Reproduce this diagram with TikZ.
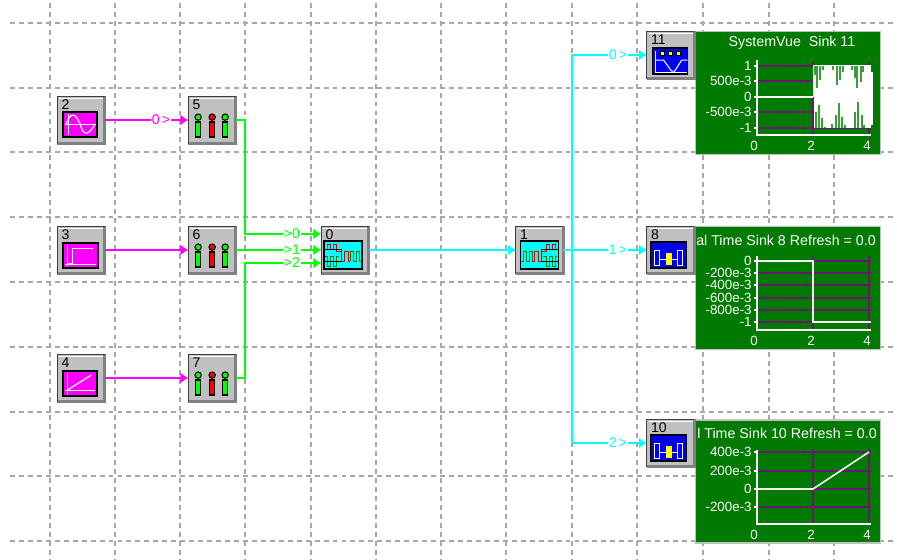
\documentclass[tikz,border=0pt]{standalone}
\usepackage{fontspec}
\setmainfont{Liberation Sans}
\usetikzlibrary{arrows.meta,positioning,calc}

\definecolor{gridgray}{HTML}{A8A8A8}
\definecolor{boxgray}{HTML}{C0C0C0}
\definecolor{edgegray}{HTML}{808080}
\definecolor{sinkgreen}{HTML}{007A00}
\definecolor{plotpurple}{HTML}{651A6B}
\definecolor{iconblue}{HTML}{0000F0}
\definecolor{sigmagenta}{HTML}{FF00FF}
\definecolor{sigcyan}{HTML}{00FFFF}
\definecolor{siggreen}{HTML}{00FF00}
\definecolor{lampyellow}{HTML}{FFFF00}
\definecolor{spikegreen}{HTML}{3C9C3C}

\newcommand{\axisfont}{\fontsize{7.6}{8}\selectfont}
\newcommand{\titlefont}{\fontsize{8.1}{9}\selectfont}

\tikzset{
  tokenbox/.style={fill=boxgray, minimum width=0.94cm, minimum height=0.94cm, inner sep=0pt},
  sinkpanel/.style={fill=sinkgreen, draw=boxgray, line width=0.9pt, minimum width=3.7cm, minimum height=2.46cm, inner sep=0pt},
  wirem/.style={draw=sigmagenta, line width=0.85pt, -{Latex[length=4.4pt,width=6.2pt]}},
  wireg/.style={draw=siggreen, line width=0.85pt, -{Latex[length=4.4pt,width=6.2pt]}},
  wirec/.style={draw=sigcyan, line width=0.85pt, -{Latex[length=4.4pt,width=6.2pt]}},
  wirelabel/.style={fill=white, inner sep=0.6pt, font=\fontsize{8}{9}\selectfont},
  iconbox/.style={draw=black, line width=0.8pt},
  pics/sinewave/.style={code={
    \draw[iconbox, fill=sigmagenta] (6,16) rectangle (40,41);
    \draw[white, line width=0.6pt] (11,18) -- (11,39) (8,28) -- (39,28);
    \draw[white, line width=0.7pt] (9,28) .. controls (13,16) and (18,16) .. (23,28) .. controls (26,40) and (31,40) .. (38,28);
  }},
  pics/stepwave/.style={code={
    \draw[iconbox, fill=sigmagenta] (6,17) rectangle (41,42);
    \draw[white, line width=0.6pt] (10,19) -- (10,41) (8,38) -- (39,38);
    \draw[white, line width=0.7pt] (10,37) -- (15,37) -- (15,22) -- (36,22);
  }},
  pics/rampwave/.style={code={
    \draw[iconbox, fill=sigmagenta] (6,17) rectangle (40,42);
    \draw[white, line width=0.6pt] (10,19) -- (10,41) (8,36) -- (38,36);
    \draw[white, line width=0.7pt] (10,36) -- (34,21);
  }},
  pics/meterbars/.style={code={
    \foreach \barx/\barcolor in {10/siggreen,24/red,37/siggreen} {
      \filldraw[fill=\barcolor, draw=black, line width=0.6pt] (\barx,21) circle [radius=1.8pt];
      \draw[fill=\barcolor, line width=0.8pt] ($(\barx,26)+(-2.5,0)$) rectangle ($(\barx,41)+(2.5,0)$);
    }
  }},
  pics/muxicon/.style={code={
    \draw[iconbox, fill=sigcyan] (3,15) rectangle (41,43);
    \draw[red!85!black, line width=0.6pt] (4,23) -- (6,23) -- (6,18) -- (9,18) -- (9,23) -- (12,23) -- (12,18) -- (15,18) -- (15,25) -- (20,25);
    \draw[green!50!black, line width=0.6pt] (4,30) -- (6,30) -- (6,40) -- (9,40) -- (9,30) -- (12,30) -- (12,40) -- (15,40) -- (15,30) -- (18,30);
    \draw[red!85!black, line width=0.6pt] (20,35) -- (23,35) -- (23,25) -- (27,25) -- (27,35) -- (29,35);
    \draw[green!50!black, line width=0.6pt] (29,35) -- (29,25) -- (32,25) -- (32,35) -- (35,35) -- (35,25) -- (38,25) -- (38,35) -- (40,35);
    \draw[black, line width=0.7pt] (3,23) rectangle (20,35);
  }},
  pics/specicon/.style={code={
    \draw[iconbox, fill=iconblue] (6,17) rectangle (41,43);
    \foreach \lampx in {16,24,32} {
      \draw[fill=lampyellow, line width=0.4pt] ($(\lampx,22)+(-2,-2)$) rectangle ($(\lampx,22)+(2,2)$);
    }
    \draw[white, line width=0.6pt] (9,20) -- (9,41) -- (40,41);
    \draw[white, line width=0.6pt] (9,29) -- (17,29) -- (25,40) -- (28,40) -- (35,29) -- (41,29);
  }},
  pics/scopeicon/.style={code={
    \draw[iconbox, fill=iconblue] (4,16) rectangle (40,42);
    \draw[white, line width=0.6pt] (13,33) -- (31,33);
    \draw[white, line width=0.6pt] (8,24) rectangle (13,39);
    \draw[white, line width=0.6pt] (31,24) rectangle (36,39);
    \fill[lampyellow] (19,27) rectangle (25,39);
  }},
}

% box of a token with its raised edges and number
\newcommand{\tokenshell}[3]{
  \node[tokenbox] (#1) at (#2) {};
  \draw[white, line width=0.5pt] ($(#1.north west)+(2,2)$) -- ($(#1.north east)+(-1,2)$);
  \draw[edgegray, line width=1.7pt] (#1.north east) -- (#1.south east) -- (#1.south west);
  \draw[black!75, line width=0.7pt] (#1.south west) -- (#1.north west) -- (#1.north east);
  \node[anchor=north west, inner sep=0pt, font=\fontsize{8}{9}\selectfont] (#1num) at ($(#1.north west)+(4,3)$) {#3};
}
\newcommand{\tokenblock}[4]{
  \tokenshell{#1}{#2}{#3}
  \pic at (#1.north west) {#4};
}

\begin{document}
\begin{tikzpicture}[x=0.02cm,y=-0.02cm]
\useasboundingbox (0,0) rectangle (897,560);

% Grid
\foreach \gx in {50,115,180,245,311,376,441,506,572,637,703,769,834} {
  \draw[gridgray, line width=0.6pt, dash pattern=on 2.8pt off 2.3pt] (\gx,3) -- (\gx,560);
}
\foreach \gy in {23,88,152,217,282,347,412,476,541} {
  \draw[gridgray, line width=0.6pt, dash pattern=on 2.8pt off 2.3pt] (10,\gy) -- (897,\gy);
}

% Sink panels
\node[sinkpanel] (sink11) at (788,93) {};
\node[sinkpanel] (sink8) at (788,288) {};
\node[sinkpanel] (sink10) at (788,481.5) {};

% Panel titles
\node[white, font=\titlefont] (title11) at (792,43) {SystemVue\ \ Sink 11};
\node[white, font=\titlefont] (title8) at (786,240) {al Time Sink 8 Refresh = 0.0};
\node[white, font=\titlefont] (title10) at (787,433) {l Time Sink 10 Refresh = 0.0};

% Plot 11
\foreach \py in {66,81,112,128} {
  \draw[plotpurple, line width=1.1pt] (757,\py) -- (871,\py);
}
\fill[white] (813,65) rectangle (871,128);
\fill[white] (871,72) rectangle (873,125);
\foreach \sx/\sy in {815/75,817/88,820/80,823/70,833/70,837/85,840/80,843/72,852/70,855/78,857/88,861/82,863/72} {
  \draw[spikegreen, line width=0.9pt] (\sx,66) -- (\sx,\sy);
}
\foreach \sx/\sy in {816/112,819/105,822/118,825/127,832/124,836/115,839/103,842/117,845/125,855/112,858/102,862/115,864/125} {
  \draw[spikegreen, line width=0.9pt] (\sx,128) -- (\sx,\sy);
}
\draw[plotpurple, line width=1.1pt] (813,62) -- (813,65) (813,97) -- (813,135) (869,62) -- (869,65) (869,128) -- (869,135);
\draw[white, line width=0.7pt] (757,97) -- (813,97);
\draw[white, line width=0.8pt] (757,60) -- (757,135) -- (871,135);
\foreach \lab/\py in {1/66,500e-3/81,0/97,-500e-3/112,-1/128} {
  \node[white, anchor=east, inner sep=0pt, font=\axisfont] (ya\py) at (752,\py) {\lab};
  \draw[white, line width=0.6pt] (754,\py) -- (757,\py);
}
\foreach \lab/\px in {0/754,2/811,4/867} {
  \node[white, inner sep=0pt, font=\axisfont] (xa\px) at (\px,146) {\lab};
}

% Plot 8
\foreach \py in {261,273,285,298,310,322} {
  \draw[plotpurple, line width=1.1pt] (757,\py) -- (871,\py);
}
\draw[plotpurple, line width=1.1pt] (813,256) -- (813,330) (869,256) -- (869,330);
\draw[white, line width=0.8pt] (757,261) -- (813,261) -- (813,322) -- (871,322);
\draw[white, line width=0.8pt] (757,256) -- (757,330) -- (871,330);
\foreach \lab/\py in {0/261,-200e-3/273,-400e-3/285,-600e-3/298,-800e-3/310,-1/322} {
  \node[white, anchor=east, inner sep=0pt, font=\axisfont] (yb\py) at (752,\py) {\lab};
  \draw[white, line width=0.6pt] (754,\py) -- (757,\py);
}
\foreach \lab/\px in {0/754,2/811,4/867} {
  \node[white, inner sep=0pt, font=\axisfont] (xb\px) at (\px,341) {\lab};
}

% Plot 10
\foreach \py in {452,471,489,507} {
  \draw[plotpurple, line width=1.1pt] (757,\py) -- (871,\py);
}
\draw[plotpurple, line width=1.1pt] (813,449) -- (813,524) (869,449) -- (869,524);
\draw[white, line width=0.9pt] (757,489) -- (813,489) -- (869,452);
\draw[white, line width=0.8pt] (757,450) -- (757,524) -- (871,524);
\foreach \lab/\py in {400e-3/452,200e-3/471,0/489,-200e-3/507} {
  \node[white, anchor=east, inner sep=0pt, font=\axisfont] (yc\py) at (752,\py) {\lab};
  \draw[white, line width=0.6pt] (754,\py) -- (757,\py);
}
\foreach \lab/\px in {0/754,2/811,4/867} {
  \node[white, inner sep=0pt, font=\axisfont] (xc\px) at (\px,535) {\lab};
}

% Tokens
\tokenblock{src2}{81,120}{2}{sinewave}
\tokenblock{src3}{81,250}{3}{stepwave}
\tokenblock{src4}{81,378}{4}{rampwave}
\tokenblock{meter5}{212,120}{5}{meterbars}
\tokenblock{meter6}{212,250}{6}{meterbars}
\tokenblock{meter7}{212,378}{7}{meterbars}
\tokenblock{mux0}{345,250}{0}{muxicon}
\tokenshell{demux1}{539.5,250}{1}
\pic[xscale=-1] at ($(demux1.north east)+(-2,0)$) {muxicon};
\tokenblock{spec11}{670.5,55}{11}{specicon}
\tokenblock{scope8}{670.5,250}{8}{scopeicon}
\tokenblock{scope10}{670.5,443}{10}{scopeicon}

% Magenta wires
\draw[wirem] (src2.east) -- (meter5.west);
\draw[wirem] (src3.east) -- (meter6.west);
\draw[wirem] (src4.east) -- (meter7.west);
\node[wirelabel, text=sigmagenta] (lab2) at (161,120) {0\,>};

% Green wires
\coordinate (mux0a) at ($(mux0.west)+(0,-16)$);
\coordinate (mux0c) at ($(mux0.west)+(0,13)$);
\coordinate (bend5) at (245,234);
\coordinate (bend7) at (245,263);
\draw[wireg] (meter5.east) -| (bend5) -- (mux0a);
\draw[wireg] (meter6.east) -- (mux0.west);
\draw[wireg] (meter7.east) -| (bend7) -- (mux0c);
\node[wirelabel, text=siggreen] (lab50) at (292,234) {>0};
\node[wirelabel, text=siggreen] (lab61) at (292,250) {>1};
\node[wirelabel, text=siggreen] (lab72) at (292,263) {>2};

% Cyan wires
\coordinate (fork) at (572,250);
\draw[wirec] (mux0.east) -- (demux1.west);
\draw[wirec] (demux1.east) -- (scope8.west);
\draw[wirec] (fork) |- (spec11.west);
\draw[wirec] (fork) |- (scope10.west);
\node[wirelabel, text=sigcyan] (lab11) at (618,55) {0\,>};
\node[wirelabel, text=sigcyan] (lab8) at (618,250) {1\,>};
\node[wirelabel, text=sigcyan] (lab10) at (618,443) {2\,>};
\end{tikzpicture}
\end{document}
